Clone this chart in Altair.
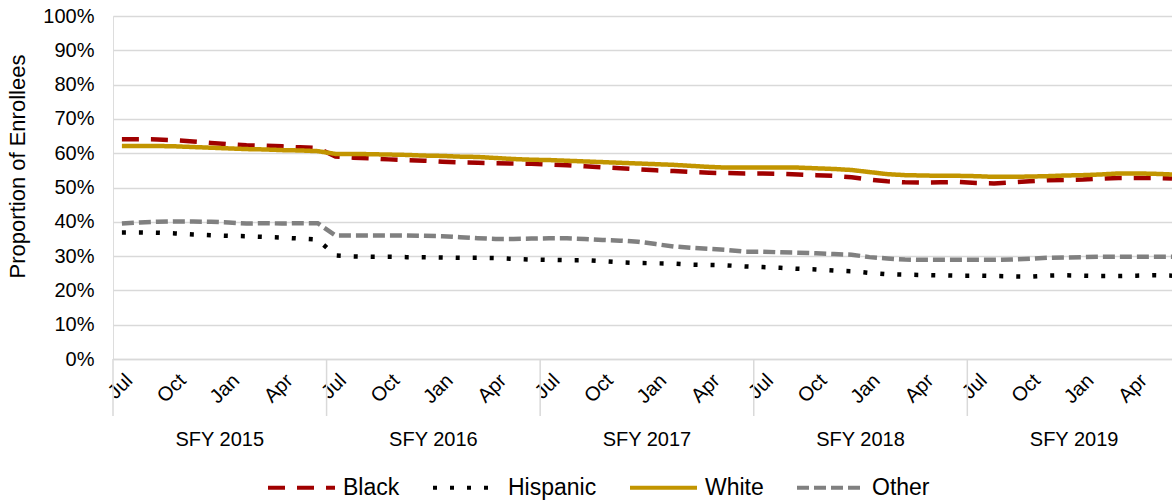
import json
import altair as alt
import pandas as pd

# Monthly share of enrollees by race/ethnicity, Jul 2014 - Jun 2019 (percent)
races = ["Black", "Hispanic", "White", "Other"]

black = [64.1, 64.1, 64.0, 63.8, 63.4, 63.0, 62.6, 62.3, 62.2, 62.0, 61.7, 61.5,
         59.0, 58.7, 58.5, 58.2, 58.0, 57.8, 57.5, 57.3, 57.2, 57.1, 57.0, 56.9,
         56.7, 56.5, 56.2, 55.9, 55.6, 55.3, 55.0, 54.8, 54.5, 54.3, 54.2, 54.1,
         54.1, 54.0, 53.8, 53.6, 53.4, 53.0, 52.3, 51.8, 51.5, 51.4, 51.5, 51.6,
         51.3, 51.2, 51.5, 51.8, 52.1, 52.2, 52.3, 52.6, 52.8, 52.8, 52.8, 52.6]

hispanic = [36.9, 36.9, 36.8, 36.6, 36.3, 36.1, 35.9, 35.8, 35.6, 35.4, 35.1, 34.8,
            30.2, 29.9, 29.8, 29.8, 29.7, 29.7, 29.6, 29.5, 29.5, 29.4, 29.2, 29.0,
            28.9, 28.8, 28.8, 28.5, 28.2, 28.0, 27.9, 27.8, 27.5, 27.4, 27.3, 27.0,
            26.8, 26.6, 26.3, 26.1, 25.8, 25.6, 25.1, 24.7, 24.6, 24.5, 24.4, 24.3,
            24.3, 24.2, 24.1, 24.0, 24.3, 24.4, 24.3, 24.2, 24.2, 24.3, 24.4, 24.3]

white = [62.1, 62.1, 62.1, 62.0, 61.8, 61.6, 61.4, 61.2, 61.1, 60.9, 60.8, 60.6,
         59.8, 59.8, 59.7, 59.6, 59.5, 59.3, 59.2, 59.0, 58.9, 58.6, 58.3, 58.1,
         58.0, 57.8, 57.6, 57.4, 57.2, 57.0, 56.8, 56.6, 56.3, 56.0, 55.8, 55.8,
         55.8, 55.8, 55.8, 55.6, 55.4, 55.1, 54.5, 53.9, 53.6, 53.5, 53.4, 53.4,
         53.3, 53.1, 53.1, 53.2, 53.3, 53.5, 53.6, 53.8, 54.1, 54.1, 54.0, 53.8]

other = [39.5, 39.8, 40.0, 40.1, 40.1, 40.0, 39.8, 39.5, 39.6, 39.5, 39.6, 39.6,
         36.0, 36.0, 36.0, 36.0, 36.0, 35.9, 35.8, 35.5, 35.2, 35.0, 35.0, 35.1,
         35.2, 35.2, 35.0, 34.7, 34.5, 34.2, 33.5, 32.8, 32.4, 32.1, 31.8, 31.3,
         31.3, 31.1, 31.0, 30.8, 30.6, 30.4, 29.7, 29.3, 29.0, 28.9, 28.9, 28.9,
         28.9, 28.9, 29.0, 29.2, 29.5, 29.6, 29.7, 29.8, 29.8, 29.8, 29.8, 29.8]

month_names = ["Jul", "Aug", "Sep", "Oct", "Nov", "Dec",
               "Jan", "Feb", "Mar", "Apr", "May", "Jun"]
fiscal_years = ["SFY 2015", "SFY 2016", "SFY 2017", "SFY 2018", "SFY 2019"]

colors = ["#A00000", "#000000", "#C29500", "#808080"]
dashes = [[17, 12], [4, 13], [1, 0], [12, 5]]

FONT = "Liberation Sans"

series = {"Black": black, "Hispanic": hispanic, "White": white, "Other": other}
rows = []
for race in races:
    for m, v in enumerate(series[race]):
        rows.append({"month": m, "share": v / 100.0, "race": race})
df = pd.DataFrame(rows)

n_months = len(black)
years_df = pd.DataFrame({
    "label": fiscal_years,
    "center": [12 * i + 5.5 for i in range(len(fiscal_years))],
})
bounds_df = pd.DataFrame({"edge": [12 * i - 0.5 for i in range(len(fiscal_years))]})

x_scale = alt.Scale(domain=[-0.5, n_months - 1], nice=False, zero=False)

legend_cfg = alt.Legend(
    title=None, orient="none", direction="horizontal",
    legendX=153, legendY=436,
    symbolType="stroke", symbolSize=4489, symbolStrokeWidth=4,
    labelFont=FONT, labelFontSize=23, labelColor="#000000",
    labelOffset=6, columnPadding=25,
)

lines = alt.Chart(df).mark_line(strokeWidth=4.5, strokeCap="butt").encode(
    x=alt.X(
        "month:Q", scale=x_scale,
        axis=alt.Axis(
            title=None, grid=False, ticks=False,
            values=list(range(0, n_months, 3)),
            labelExpr=f"{json.dumps(month_names)}[datum.value % 12]",
            labelAngle=-45, labelAlign="right", labelBaseline="top",
            labelPadding=11, labelOverlap=False, labelBound=False, labelFlush=False,
            labelFont=FONT, labelFontSize=20, labelColor="#000000",
            domainColor="#d9d9d9", domainWidth=1.5,
        ),
    ),
    y=alt.Y(
        "share:Q", scale=alt.Scale(domain=[0, 1], nice=False),
        axis=alt.Axis(
            title="Proportion of Enrollees",
            values=[i / 10 for i in range(11)], format=".0%",
            grid=True, gridColor="#d9d9d9", gridWidth=1.5,
            domain=False, ticks=False,
            labelFont=FONT, labelFontSize=20, labelColor="#000000", labelPadding=19,
            titleFont=FONT, titleFontSize=22, titleFontWeight="normal",
            titleColor="#000000", titleX=-84, titleY=150,
        ),
    ),
    color=alt.Color("race:N", scale=alt.Scale(domain=races, range=colors),
                    legend=legend_cfg),
    strokeDash=alt.StrokeDash("race:N", scale=alt.Scale(domain=races, range=dashes),
                              legend=legend_cfg),
    order=alt.Order("month:Q"),
)

# Separators between fiscal years below the axis
separators = alt.Chart(bounds_df).mark_rule(color="#d9d9d9", strokeWidth=1.5).encode(
    x=alt.X("edge:Q", scale=x_scale),
    y=alt.value(343),
    y2=alt.value(400),
)

year_labels = alt.Chart(years_df).mark_text(
    font=FONT, fontSize=20, color="#000000", align="center", baseline="middle"
).encode(
    x=alt.X("center:Q", scale=x_scale),
    y=alt.value(424),
    text="label:N",
)

chart = alt.layer(separators, lines, year_labels).properties(
    width=1059,
    height=343,
    autosize=alt.AutoSizeParams(type="none"),
    padding={"left": 113, "top": 16, "right": 0, "bottom": 144},
).configure_view(stroke=None).configure(font=FONT, background="white")

chart.save("out.html", embed_options={"renderer": "svg", "actions": False})
